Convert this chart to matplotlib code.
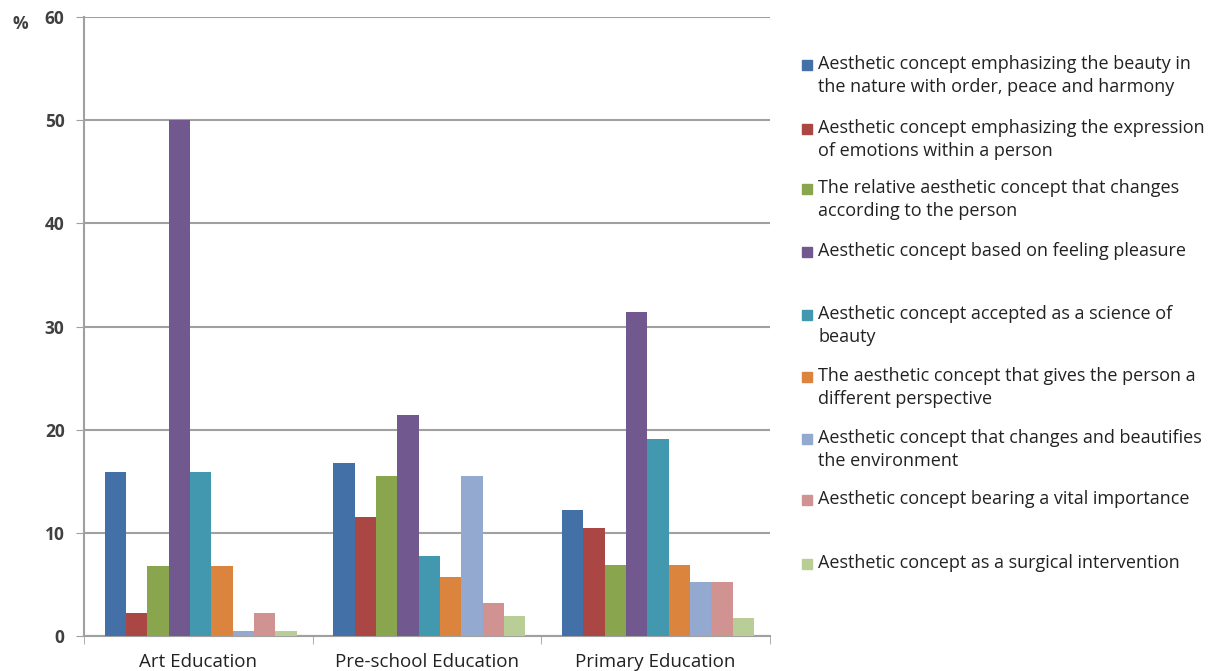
import matplotlib.pyplot as plt
import numpy as np
from matplotlib.patches import Rectangle

groups = ["Art Education", "Pre-school Education", "Primary Education"]

labels = [
    "Aesthetic concept emphasizing the beauty in\nthe nature with order, peace and harmony",
    "Aesthetic concept emphasizing the expression\nof emotions within a person",
    "The relative aesthetic concept that changes\naccording to the person",
    "Aesthetic concept based on feeling pleasure",
    "Aesthetic concept accepted as a science of\nbeauty",
    "The aesthetic concept that gives the person a\ndifferent perspective",
    "Aesthetic concept that changes and beautifies\nthe environment",
    "Aesthetic concept bearing a vital importance",
    "Aesthetic concept as a surgical intervention",
]

art = [15.9, 2.2, 6.8, 50.0, 15.9, 6.8, 0.5, 2.2, 0.5]
preschool = [16.8, 11.5, 15.5, 21.4, 7.8, 5.7, 15.5, 3.2, 1.9]
primary = [12.2, 10.5, 6.9, 31.4, 19.1, 6.9, 5.2, 5.2, 1.7]

colors = ["#4470a8", "#aa4643", "#89a54e", "#71588f", "#4198af",
          "#db843d", "#93a9cf", "#d19392", "#b9cd96"]

plt.rcParams['font.family'] = ['Open Sans', 'DejaVu Sans']

fig = plt.figure(figsize=(12.11, 6.71), dpi=100)
ax = fig.add_axes([84 / 1211, 1 - 636 / 671, 686 / 1211, 619 / 671])

data = np.array([art, preschool, primary])
n = len(labels)
width = 0.84 / n
x = np.arange(len(groups))
for i in range(n):
    ax.bar(x - 0.41 + width * (i + 0.5), data[:, i], width,
           color=colors[i], zorder=3)

ax.set_xlim(-0.5, 2.5)
ax.set_ylim(0, 60)
ax.set_yticks(range(0, 61, 10))
ax.yaxis.grid(True, color="#a0a0a0", linewidth=1.5, zorder=0)
ax.set_xticks(x)
ax.set_xticklabels(groups, fontsize=13.5, color="#222222")
ax.set_xticks([-0.5, 0.5, 1.5, 2.5], minor=True)
ax.tick_params(axis="x", which="major", length=0, pad=12)
ax.tick_params(axis="x", which="minor", length=6, color="#a0a0a0")
ax.tick_params(axis="y", length=6, color="#a0a0a0", labelsize=12.5, pad=8)
for t in ax.get_yticklabels():
    t.set_fontweight("bold")
    t.set_color("#404040")
for s in ["top", "right"]:
    ax.spines[s].set_visible(False)
for s in ["left", "bottom"]:
    ax.spines[s].set_color("#a0a0a0")
    ax.spines[s].set_linewidth(1.5)

fig.text(20 / 1211, 1 - 24 / 671, "%", fontsize=12.5, fontweight="bold",
         color="#404040", ha="center", va="center")

# legend, placed by hand to follow the uneven spacing of the original
leg_y = [65, 129, 189, 252, 315, 377, 439, 500, 564]
for lab, c, yy in zip(labels, colors, leg_y):
    fig.patches.append(Rectangle((802 / 1211, 1 - (yy + 5) / 671), 10 / 1211, 10 / 671,
                                 transform=fig.transFigure, color=c))
    fig.text(818 / 1211, 1 - (yy - 10) / 671, lab, fontsize=13, color="#222222",
             va="top", ha="left", linespacing=1.38)

fig.savefig("out.png", dpi=100)
